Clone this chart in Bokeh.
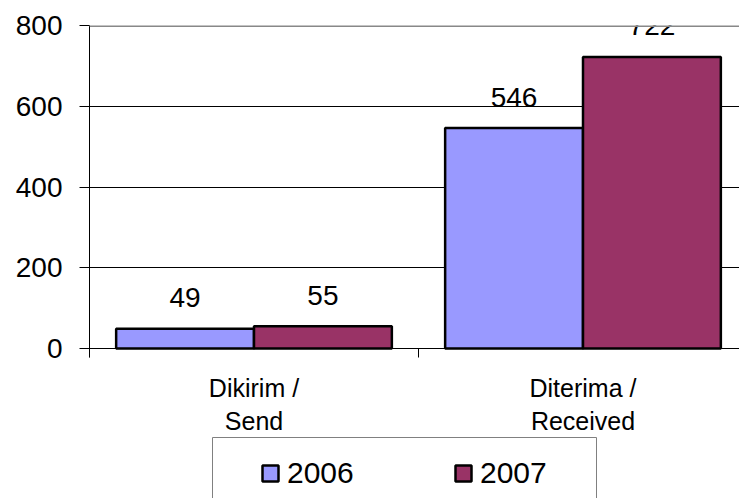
from bokeh.plotting import figure
from bokeh.models import (ColumnDataSource, Range1d, FixedTicker, Legend, LegendItem, Span,
                          BoxAnnotation)
from bokeh.transform import dodge
from bokeh.core.properties import value
from bokeh.embed import file_html
from bokeh.resources import INLINE

categories = ["Dikirim /\nSend", "Diterima /\nReceived"]
years = ["2006", "2007"]
values_2006 = [49, 546]
values_2007 = [55, 722]
colors = ["#9999FF", "#993366"]
y_ticks = [0, 200, 400, 600, 800]

FONT = "Liberation Sans"
idx = [i + 0.5 for i in range(len(categories))]
src = ColumnDataSource(dict(x=idx, v2006=values_2006, v2007=values_2007,
                            l2006=[str(v) for v in values_2006],
                            l2007=[str(v) for v in values_2007]))

# frame spans from the 800 line to the bottom of the page; y=0 sits 150px above the bottom
Y_MAX = 800
px_per_unit = 323 / Y_MAX
y_min = -150 / px_per_unit

p = figure(width=739, height=498, output_backend="svg", toolbar_location=None,
           x_range=Range1d(0, 1.9757), y_range=Range1d(y_min, Y_MAX),
           min_border_left=89, min_border_right=0, min_border_top=25, min_border_bottom=0)
p.background_fill_color = "white"
p.border_fill_color = "white"
p.outline_line_color = None

bw = 0.419
r1 = p.vbar(x=dodge("x", -bw / 2, range=p.x_range), top="v2006", width=bw, source=src,
            fill_color=colors[0], line_color="black", line_width=2.5)
r2 = p.vbar(x=dodge("x", bw / 2, range=p.x_range), top="v2007", width=bw, source=src,
            fill_color=colors[1], line_color="black", line_width=2.5)

for col, off in (("2006", -bw / 2), ("2007", bw / 2)):
    p.text(x=dodge("x", off, range=p.x_range), y="v" + col, text="l" + col, source=src,
           text_font=value(FONT), text_font_size="28px", text_align="center",
           text_baseline="middle", y_offset=-31, text_color="black")

# y axis
p.yaxis.ticker = FixedTicker(ticks=y_ticks)
p.yaxis.bounds = (-9 / px_per_unit, Y_MAX)
p.yaxis.axis_line_color = "black"
p.yaxis.axis_line_width = 1
p.yaxis.major_tick_out = 10
p.yaxis.major_tick_in = 0
p.yaxis.minor_tick_line_color = None
p.yaxis.major_label_text_font = FONT
p.yaxis.major_label_text_font_size = "28px"
p.yaxis.major_label_text_color = "black"
p.yaxis.major_label_standoff = 17

# x axis, drawn at y = 0
p.xaxis.fixed_location = 0
p.xaxis.ticker = FixedTicker(ticks=idx, minor_ticks=[0, 1, 2])
p.xaxis.major_label_overrides = {x: c for x, c in zip(idx, categories)}
p.xaxis.major_tick_line_color = None
p.xaxis.major_tick_out = 0
p.xaxis.major_tick_in = 0
p.xaxis.minor_tick_out = 9
p.xaxis.minor_tick_in = 0
p.xaxis.minor_tick_line_color = "black"
p.xaxis.axis_line_color = "black"
p.xaxis.major_label_text_font = FONT
p.xaxis.major_label_text_font_size = "25px"
p.xaxis.major_label_text_color = "black"
p.xaxis.major_label_standoff = 16

p.xgrid.grid_line_color = None
p.ygrid.ticker = FixedTicker(ticks=y_ticks[1:-1])
p.ygrid.grid_line_color = "black"
p.ygrid.grid_line_width = 1

p.add_layout(Span(location=Y_MAX, dimension="width", line_color="#888888", line_width=3))

box = BoxAnnotation(left=123, right=507, top=61, bottom=-20,
                    left_units="screen", right_units="screen",
                    top_units="screen", bottom_units="screen",
                    fill_color=None, fill_alpha=0, line_color="#808080", line_alpha=1,
                    line_width=1)
p.add_layout(box)

legend = Legend(items=[LegendItem(label=years[0], renderers=[r1]),
                       LegendItem(label=years[1], renderers=[r2])],
                orientation="horizontal", location=(171, 8),
                padding=0, margin=0, spacing=98, border_line_color=None,
                background_fill_alpha=0,
                glyph_width=20, glyph_height=20, label_standoff=7, label_width=68,
                label_height=20,
                label_text_font=FONT, label_text_font_size="30px",
                label_text_color="black")
p.add_layout(legend, "center")

open("out.html", "w").write(file_html(p, INLINE))
